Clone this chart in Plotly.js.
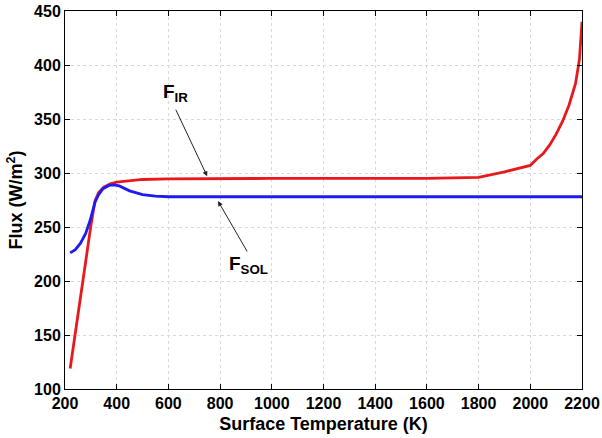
<!DOCTYPE html>
<html><head><meta charset="utf-8">
<script src="https://cdn.plot.ly/plotly-3.0.1.min.js"></script>
<style>html,body{margin:0;padding:0;background:#fff}#plot{width:602px;height:438px}</style>
</head><body><div id="plot"></div>
<script>
const tempIR = [220, 250, 275, 300, 316, 330, 350, 375, 400, 450, 500, 600, 800, 1000, 1200, 1400, 1600, 1800, 1900, 2000, 2025, 2050, 2075, 2100, 2125, 2150, 2175, 2190, 2200];
const fluxIR = [119, 170, 211, 251, 274, 282, 287, 290, 291.5, 293, 294, 294.5, 295, 295, 295, 295, 295, 296, 301, 307, 313, 318, 326, 336, 348, 363, 383, 405, 440];
const tempSOL = [220, 240, 260, 280, 297, 316, 330, 347, 370, 390, 410, 430, 450, 500, 550, 600, 800, 1000, 1200, 1400, 1600, 1800, 2000, 2200];
const fluxSOL = [226, 229, 235, 244, 256, 273, 280, 285.5, 288.5, 289, 288, 285.5, 283.5, 280, 278.5, 278, 278, 278, 278, 278, 278, 278, 278, 278];
const xTicks = [200, 400, 600, 800, 1000, 1200, 1400, 1600, 1800, 2000, 2200];
const yTicks = [100, 150, 200, 250, 300, 350, 400, 450];

const font = {family: 'Liberation Sans, Arial, sans-serif', size: 16, color: '#000'};
const traces = [
  {x: tempIR, y: fluxIR, mode: 'lines', line: {color: '#e8191e', width: 2.8}, name: 'F_IR'},
  {x: tempSOL, y: fluxSOL, mode: 'lines', line: {color: '#1c1cf0', width: 2.8}, name: 'F_SOL'}
];
const axBase = {showline: true, linecolor: '#000', linewidth: 1, mirror: 'ticks', ticks: 'inside', ticklen: 5, tickcolor: '#000',
  showgrid: true, gridcolor: '#d9d9d9', griddash: 'dot', gridwidth: 1, zeroline: false, tickfont: {family: font.family, size: 16, color: '#000', weight: 'bold'}};
const layout = {
  width: 602, height: 438, margin: {l: 65, r: 20, t: 11, b: 49},
  paper_bgcolor: '#fff', plot_bgcolor: '#fff', showlegend: false, font: font,
  xaxis: Object.assign({}, axBase, {range: [200, 2200], tickvals: xTicks, ticktext: xTicks.map(String),
    title: {text: '<b>Surface Temperature (K)</b>', font: {family: font.family, size: 18, color: '#000'}, standoff: 6}}),
  yaxis: Object.assign({}, axBase, {range: [100, 450], tickvals: yTicks, ticktext: yTicks.map(String),
    title: {text: '<b>Flux (W/m<sup>2</sup>)</b>', font: {family: font.family, size: 18, color: '#000'}, standoff: 6}}),
  annotations: [
    {x: 629, y: 374, xref: 'x', yref: 'y', text: '<b>F<sub>IR</sub></b>', showarrow: false, font: {family: font.family, size: 19, color: '#000'}},
    {x: 910, y: 215, xref: 'x', yref: 'y', text: '<b>F<sub>SOL</sub></b>', showarrow: false, font: {family: font.family, size: 19, color: '#000'}},
    {x: 750, y: 297, ax: 626, ay: 360, xref: 'x', yref: 'y', axref: 'x', ayref: 'y', text: '', showarrow: true, arrowhead: 2, arrowsize: 1, arrowwidth: 1, arrowcolor: '#222'},
    {x: 792, y: 274, ax: 908, ay: 226, xref: 'x', yref: 'y', axref: 'x', ayref: 'y', text: '', showarrow: true, arrowhead: 2, arrowsize: 1, arrowwidth: 1, arrowcolor: '#222'}
  ]
};
Plotly.newPlot('plot', traces, layout, {displayModeBar: false, staticPlot: true});
</script></body></html>
